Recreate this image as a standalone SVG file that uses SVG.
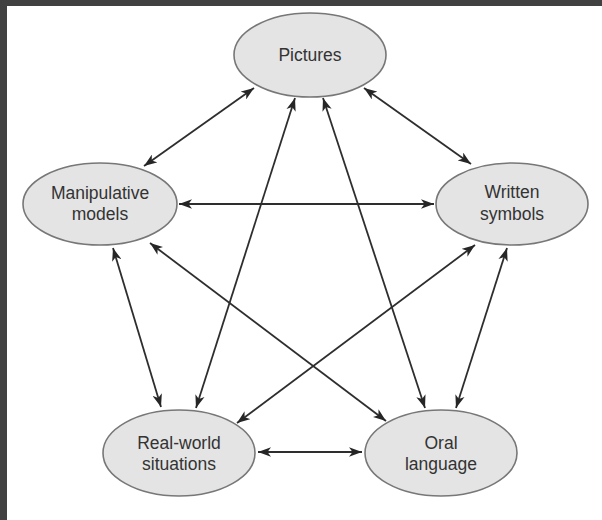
<svg xmlns="http://www.w3.org/2000/svg" width="602" height="520" viewBox="0 0 602 520">
  <style>
    .node ellipse { fill: #e4e4e4; stroke: #777777; stroke-width: 1.6; }
    .node text { font-family: "Liberation Sans", Arial, sans-serif; font-size: 17.5px; fill: #333333; text-anchor: middle; }
    .edge { stroke: #2e2e2e; stroke-width: 1.8; fill: none; marker-start: url(#ah); marker-end: url(#ah); }
  </style>
  <defs>
    <marker id="ah" viewBox="-13 -5 14 10" markerWidth="14" markerHeight="10" refX="0" refY="0" markerUnits="userSpaceOnUse" orient="auto-start-reverse">
      <path d="M0,0 L-13,-4.8 L-9.5,0 L-13,4.8 Z" fill="#262626"/>
    </marker>
  </defs>
  <rect x="0" y="0" width="602" height="520" fill="#ffffff"/>
  <rect x="0" y="0" width="602" height="6" fill="#414141"/>
  <rect x="0" y="0" width="7" height="520" fill="#414141"/>

  <g id="connectors">
    <line class="edge" x1="254" y1="88" x2="144" y2="166"/>
    <line class="edge" x1="364" y1="88" x2="471" y2="164"/>
    <line class="edge" x1="179" y1="204" x2="434" y2="204"/>
    <line class="edge" x1="113" y1="248" x2="161" y2="407"/>
    <line class="edge" x1="150" y1="243" x2="386" y2="421"/>
    <line class="edge" x1="295" y1="98" x2="196" y2="408"/>
    <line class="edge" x1="323" y1="98" x2="425" y2="408"/>
    <line class="edge" x1="475" y1="245" x2="237" y2="423"/>
    <line class="edge" x1="507" y1="248" x2="456" y2="408"/>
    <line class="edge" x1="258" y1="452" x2="362" y2="452"/>
  </g>

  <g id="pictures" class="node">
    <ellipse cx="310" cy="55" rx="76" ry="42"/>
    <text x="310" y="61">Pictures</text>
  </g>
  <g id="manipulative" class="node">
    <ellipse cx="100" cy="204" rx="77" ry="41"/>
    <text x="100" y="199">Manipulative</text>
    <text x="100" y="220">models</text>
  </g>
  <g id="written" class="node">
    <ellipse cx="512" cy="204" rx="76" ry="41"/>
    <text x="512" y="198">Written</text>
    <text x="512" y="220">symbols</text>
  </g>
  <g id="realworld" class="node">
    <ellipse cx="179" cy="453" rx="76" ry="43"/>
    <text x="179" y="449">Real-world</text>
    <text x="179" y="470">situations</text>
  </g>
  <g id="oral" class="node">
    <ellipse cx="441" cy="453" rx="76" ry="43"/>
    <text x="441" y="449">Oral</text>
    <text x="441" y="470">language</text>
  </g>
</svg>
